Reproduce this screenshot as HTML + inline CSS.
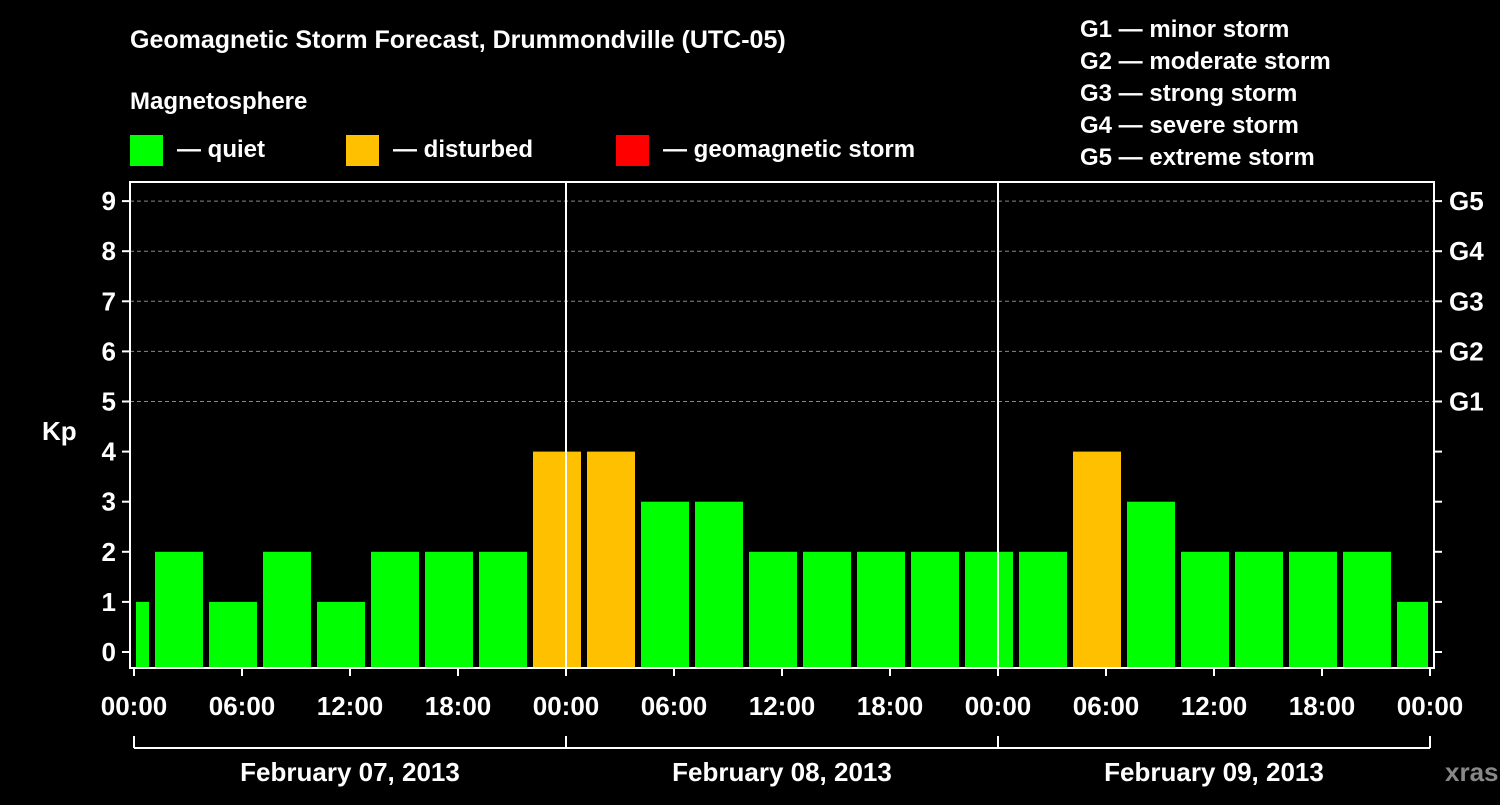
<!DOCTYPE html>
<html><head><meta charset="utf-8"><style>
body{margin:0;background:#000;}
svg text{font-family:"Liberation Sans",Arial,sans-serif;font-weight:bold;fill:#fff;}
</style></head><body>
<svg id="c" width="1500" height="800" xmlns="http://www.w3.org/2000/svg">
<rect width="1500" height="800" fill="#000"/>
<text x="130" y="48" font-size="25">Geomagnetic Storm Forecast, Drummondville (UTC-05)</text>
<text x="130" y="109" font-size="24">Magnetosphere</text>
<g><rect x="130" y="135" width="33" height="31" fill="#00ff00"/><text x="177" y="157" font-size="24">— quiet</text></g>
<g><rect x="346" y="135" width="33" height="31" fill="#ffc000"/><text x="393" y="157" font-size="24">— disturbed</text></g>
<g><rect x="616" y="135" width="33" height="31" fill="#ff0000"/><text x="663" y="157" font-size="24">— geomagnetic storm</text></g>
<g font-size="24">
<text x="1080" y="37">G1 — minor storm</text>
<text x="1080" y="69">G2 — moderate storm</text>
<text x="1080" y="101">G3 — strong storm</text>
<text x="1080" y="133">G4 — severe storm</text>
<text x="1080" y="165">G5 — extreme storm</text>
</g>
<text x="42" y="440" font-size="26">Kp</text>
<text x="1445" y="781" font-size="26" style="fill:#888">xras.ru</text>
<g id="grid"></g><g id="bars"></g><g id="axes"></g>
</svg>
<script>
const kpValues=[1,2,1,2,1,2,2,2,4,4,3,3,2,2,2,2,2,2,4,3,2,2,2,2,1];
const barStartHours=[-2,1,4,7,10,13,16,19,22,25,28,31,34,37,40,43,46,49,52,55,58,61,64,67,70];
const yTicks=[0,1,2,3,4,5,6,7,8,9];
const gLabels=["G1","G2","G3","G4","G5"];
const xTickLabels=["00:00","06:00","12:00","18:00","00:00","06:00","12:00","18:00","00:00","06:00","12:00","18:00","00:00"];
const dayLabels=["February 07, 2013","February 08, 2013","February 09, 2013"];
const NS="http://www.w3.org/2000/svg";
const X0=134,PXH=18,TMAX=72;
const x=h=>X0+Math.max(0,Math.min(TMAX,h))*PXH;
const y=v=>652-50.1*v;
function mk(tag,attrs,parent,txt){const e=document.createElementNS(NS,tag);for(const k in attrs)e.setAttribute(k,attrs[k]);if(txt!==undefined)e.textContent=txt;parent.appendChild(e);return e;}
const grid=document.getElementById('grid'),bars=document.getElementById('bars'),axes=document.getElementById('axes');
yTicks.forEach(v=>{if(v>=5){const l=mk('line',{x1:130,x2:1434,y1:y(v),y2:y(v),stroke:'#888','stroke-dasharray':'4,3','stroke-width':1},grid);}});
kpValues.forEach((v,i)=>{const s=barStartHours[i];const l=s<0?x(s)+2:x(s)+3;const r=s+3>TMAX?x(s+3)-2:x(s+3)-3;const c=v>=5?'#ff0000':(v>=4?'#ffc000':'#00ff00');
const b=mk('rect',{x:l,y:y(v),width:r-l,height:668-y(v),fill:c},bars);});
// axes
mk('rect',{x:130,y:182,width:1304,height:486,fill:'none',stroke:'#fff','stroke-width':2},axes);
[24,48].forEach(h=>{const l=mk('line',{x1:x(h),x2:x(h),y1:182,y2:668,stroke:'#fff','stroke-width':2},axes);});
yTicks.forEach(v=>{mk('line',{x1:122,x2:130,y1:y(v),y2:y(v),stroke:'#fff','stroke-width':2},axes);mk('line',{x1:1434,x2:1442,y1:y(v),y2:y(v),stroke:'#fff','stroke-width':2},axes);
const t=mk('text',{x:116,y:y(v)+9,'font-size':26,'text-anchor':'end'},axes,String(v));});
gLabels.forEach((g,i)=>{const t=mk('text',{x:1449,y:y(5+i)+9,'font-size':26},axes,g);});
xTickLabels.forEach((s,i)=>{const h=i*6;mk('line',{x1:x(h),x2:x(h),y1:668,y2:676,stroke:'#fff','stroke-width':2},axes);
const t=mk('text',{x:x(h),y:715,'font-size':26,'text-anchor':'middle'},axes,s);});
mk('line',{x1:x(0),x2:x(72),y1:748,y2:748,stroke:'#fff','stroke-width':2},axes);
[0,24,48,72].forEach(h=>mk('line',{x1:x(h),x2:x(h),y1:736,y2:748,stroke:'#fff','stroke-width':2},axes));
dayLabels.forEach((d,i)=>{const t=mk('text',{x:x(i*24+12),y:781,'font-size':26,'text-anchor':'middle'},axes,d);});
</script>
</body></html>
